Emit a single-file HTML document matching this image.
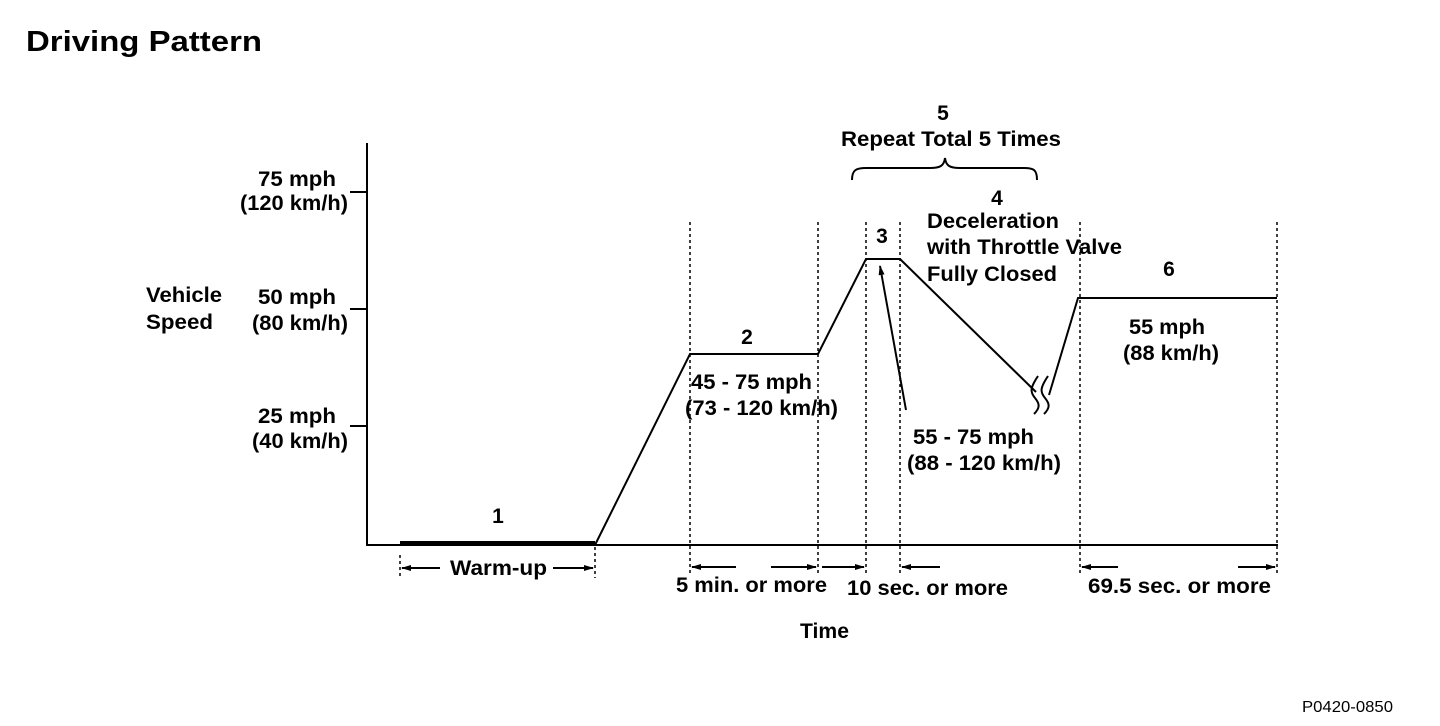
<!DOCTYPE html>
<html><head><meta charset="utf-8"><style>
html,body{margin:0;padding:0;background:#fff;}
svg{display:block;}
text{font-family:"Liberation Sans",Arial,sans-serif;font-weight:bold;fill:#000;}
</style></head><body>
<svg width="1440" height="726" viewBox="0 0 1440 726" xmlns="http://www.w3.org/2000/svg">
<defs>
<marker id="ah" markerWidth="10" markerHeight="8" refX="9" refY="4" orient="auto" markerUnits="userSpaceOnUse">
<path d="M0,1 L10,4 L0,7 Z" fill="#000"/></marker>
</defs>
<text x="26" y="51" font-size="29" textLength="236" lengthAdjust="spacingAndGlyphs">Driving Pattern</text>

<g stroke="#000" stroke-width="2" fill="none">
<line x1="367" y1="143" x2="367" y2="546"/>
<line x1="366" y1="545" x2="1278" y2="545"/>
<line x1="350" y1="192" x2="367" y2="192"/>
<line x1="350" y1="309" x2="367" y2="309"/>
<line x1="350" y1="426" x2="367" y2="426"/>
<line x1="400" y1="543" x2="595" y2="543" stroke-width="4"/>
<polyline points="595,545 690,354 818,354 866,259 900,259 1036,392"/>
<polyline points="1049,395 1078,298 1277,298"/>
<path d="M1038,376 C1030,388 1030,392 1035,398 C1040,404 1040,408 1034,414"/>
<path d="M1048,376 C1040,388 1040,392 1045,398 C1050,404 1050,408 1044,414"/>
<path d="M852,180 C852,170 856,168 866,168 L930,168 C940,168 944,166 945,158 C946,166 950,168 960,168 L1024,168 C1034,168 1037,170 1037,180"/>
</g>

<g stroke="#000" stroke-width="1.5" stroke-dasharray="3,3" fill="none">
<line x1="400" y1="555" x2="400" y2="578"/>
<line x1="595" y1="547" x2="595" y2="578"/>
<line x1="690" y1="222" x2="690" y2="576"/>
<line x1="818" y1="222" x2="818" y2="576"/>
<line x1="866" y1="222" x2="866" y2="576"/>
<line x1="900" y1="222" x2="900" y2="576"/>
<line x1="1080" y1="222" x2="1080" y2="576"/>
<line x1="1277" y1="222" x2="1277" y2="576"/>
</g>

<g stroke="#000" stroke-width="2" fill="none" marker-end="url(#ah)">
<line x1="440" y1="568" x2="402" y2="568"/>
<line x1="553" y1="568" x2="593" y2="568"/>
<line x1="736" y1="567" x2="692" y2="567"/>
<line x1="771" y1="567" x2="816" y2="567"/>
<line x1="822" y1="567" x2="864" y2="567"/>
<line x1="940" y1="567" x2="902" y2="567"/>
<line x1="1118" y1="567" x2="1082" y2="567"/>
<line x1="1238" y1="567" x2="1275" y2="567"/>
<line x1="906" y1="410" x2="880" y2="266"/>
</g>

<g font-size="21">
<text x="258" y="186" textLength="78" lengthAdjust="spacingAndGlyphs">75 mph</text>
<text x="240" y="210" textLength="108" lengthAdjust="spacingAndGlyphs">(120 km/h)</text>
<text x="146" y="302" textLength="76" lengthAdjust="spacingAndGlyphs">Vehicle</text>
<text x="146" y="329" textLength="67" lengthAdjust="spacingAndGlyphs">Speed</text>
<text x="258" y="304" textLength="78" lengthAdjust="spacingAndGlyphs">50 mph</text>
<text x="252" y="330" textLength="96" lengthAdjust="spacingAndGlyphs">(80 km/h)</text>
<text x="258" y="423" textLength="78" lengthAdjust="spacingAndGlyphs">25 mph</text>
<text x="252" y="448" textLength="96" lengthAdjust="spacingAndGlyphs">(40 km/h)</text>

<text x="498" y="523" text-anchor="middle">1</text>
<text x="450" y="575" textLength="97" lengthAdjust="spacingAndGlyphs">Warm-up</text>
<text x="747" y="344" text-anchor="middle">2</text>
<text x="691" y="389" textLength="121" lengthAdjust="spacingAndGlyphs">45 - 75 mph</text>
<text x="685" y="415" textLength="153" lengthAdjust="spacingAndGlyphs">(73 - 120 km/h)</text>
<text x="882" y="243" text-anchor="middle">3</text>
<text x="943" y="120" text-anchor="middle">5</text>
<text x="841" y="146" textLength="220" lengthAdjust="spacingAndGlyphs">Repeat Total 5 Times</text>
<text x="997" y="205" text-anchor="middle">4</text>
<text x="927" y="228" textLength="132" lengthAdjust="spacingAndGlyphs">Deceleration</text>
<text x="927" y="254" textLength="195" lengthAdjust="spacingAndGlyphs">with Throttle Valve</text>
<text x="927" y="281" textLength="130" lengthAdjust="spacingAndGlyphs">Fully Closed</text>
<text x="913" y="444" textLength="121" lengthAdjust="spacingAndGlyphs">55 - 75 mph</text>
<text x="907" y="470" textLength="154" lengthAdjust="spacingAndGlyphs">(88 - 120 km/h)</text>
<text x="1169" y="276" text-anchor="middle">6</text>
<text x="1129" y="334" textLength="76" lengthAdjust="spacingAndGlyphs">55 mph</text>
<text x="1123" y="360" textLength="96" lengthAdjust="spacingAndGlyphs">(88 km/h)</text>
<text x="676" y="592" textLength="151" lengthAdjust="spacingAndGlyphs">5 min. or more</text>
<text x="847" y="595" textLength="161" lengthAdjust="spacingAndGlyphs">10 sec. or more</text>
<text x="1088" y="593" textLength="183" lengthAdjust="spacingAndGlyphs">69.5 sec. or more</text>
<text x="800" y="638" textLength="49" lengthAdjust="spacingAndGlyphs">Time</text>
</g>
<text x="1302" y="712" font-size="16" textLength="91" lengthAdjust="spacingAndGlyphs" style="font-weight:normal">P0420-0850</text>
</svg>
</body></html>
